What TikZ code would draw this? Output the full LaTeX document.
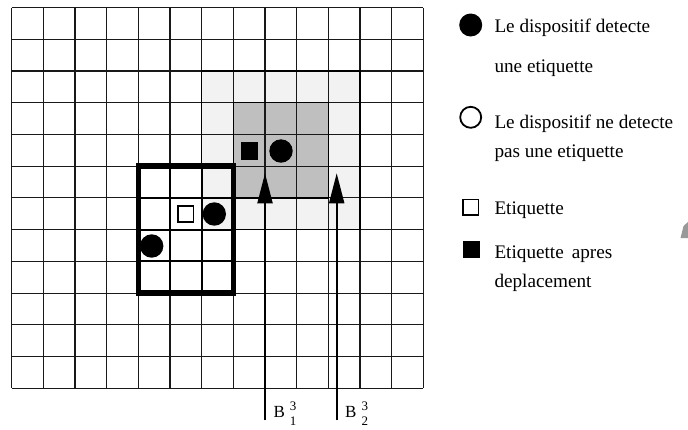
\documentclass[tikz,border=0pt]{standalone}
\usepackage{fontspec}
\setmainfont{Liberation Serif}
\usetikzlibrary{arrows.meta}
\begin{document}
\begin{tikzpicture}[x=1pt,y=-1pt,
  gridline/.style={line width=1.1pt,draw=black!90},
  lightzone/.style={fill=black!5},
  darkzone/.style={fill=black!25},
  zoneborder/.style={line width=1.5pt,draw=black},
  innerline/.style={line width=2pt,draw=black},
  thickbox/.style={line width=5.5pt,draw=black},
  filleddot/.style={circle,fill=black,inner sep=0pt,minimum size=23.4pt},
  opendot/.style={circle,draw=black,line width=1.8pt,inner sep=0pt,minimum size=21pt},
  tagbox/.style={rectangle,draw=black,line width=1.8pt,fill=white,inner sep=0pt,minimum size=15.5pt},
  movedbox/.style={rectangle,fill=black,inner sep=0pt,minimum size=17.5pt},
  sensorarrow/.style={line width=2pt,-{Triangle[length=30pt,width=15pt]}},
  legendtext/.style={anchor=base west,inner sep=0pt,font=\fontsize{19.2}{19.2}\selectfont},
  blabel/.style={anchor=base west,inner sep=0pt,font=\fontsize{17}{17}\selectfont}
]
\useasboundingbox (0,0) rectangle (688,429);
\begin{scope}[shift={(11.7,7.5)},x=31.66pt,y=-31.73pt]
  \fill[lightzone] (6,2) rectangle (11,7);
  \fill[darkzone] (7,3) rectangle (10,6);
  \foreach \i in {0,...,13} \draw[gridline] (\i,0) -- (\i,12);
  \foreach \j in {0,...,12} \draw[gridline] (0,\j) -- (13,\j);
  \draw[zoneborder] (6,2) rectangle (11,7);
  \draw[zoneborder] (7,3) rectangle (10,6);
  \foreach \i in {5,6} \draw[innerline] (\i,5) -- (\i,9);
  \foreach \j in {6,7,8} \draw[innerline] (4,\j) -- (7,\j);
  \draw[thickbox] (4,5) rectangle (7,9);
\end{scope}
% symbols in the grid
\node[tagbox] (tag) at (185.7,214) {};
\node[filleddot] (d1) at (214.3,214) {};
\node[filleddot] (d2) at (151.7,246) {};
\node[movedbox] (moved) at (249.3,151) {};
\node[filleddot] (d3) at (281,151) {};
% arrows
\coordinate (a1s) at (265,420);
\coordinate (a1e) at (265,173.3);
\coordinate (a2s) at (336.7,420);
\coordinate (a2e) at (336.7,173.3);
\draw[sensorarrow] (a1s) -- (a1e);
\draw[sensorarrow] (a2s) -- (a2e);
\node[blabel] (lb1) at (273.3,417.3) {B\hspace{5pt}\rlap{\raisebox{7pt}{\fontsize{13}{13}\selectfont 3}}\raisebox{-8.5pt}{\fontsize{13}{13}\selectfont 1}};
\node[blabel] (lb2) at (345,417.3) {B\hspace{5pt}\rlap{\raisebox{7pt}{\fontsize{13}{13}\selectfont 3}}\raisebox{-8.5pt}{\fontsize{13}{13}\selectfont 2}};
% legend
\node[filleddot,minimum size=23pt] (k1) at (470.7,25) {};
\node[legendtext] (t1a) at (494.3,32) {Le dispositif detecte};
\node[legendtext] (t1b) at (494.3,72) {une etiquette};
\node[opendot] (k2) at (470.7,117.3) {};
\node[legendtext] (t2a) at (494.3,128.8) {Le dispositif ne detecte};
\node[legendtext] (t2b) at (494.3,157.5) {pas une etiquette};
\node[tagbox,minimum size=15.5pt] (k3) at (470.7,207.3) {};
\node[legendtext] (t3) at (494.3,214) {Etiquette};
\node[movedbox,minimum size=17pt] (k4) at (471.7,249.3) {};
\node[legendtext] (t4a) at (494.3,258.5) {Etiquette\hspace{8pt}apres};
\node[legendtext] (t4b) at (494.3,287.3) {deplacement};
% stray grey mark at right edge
\fill[black!40] (680.5,238) -- (683.5,226) -- (688,222) -- (688,238) -- cycle;
\end{tikzpicture}
\end{document}
